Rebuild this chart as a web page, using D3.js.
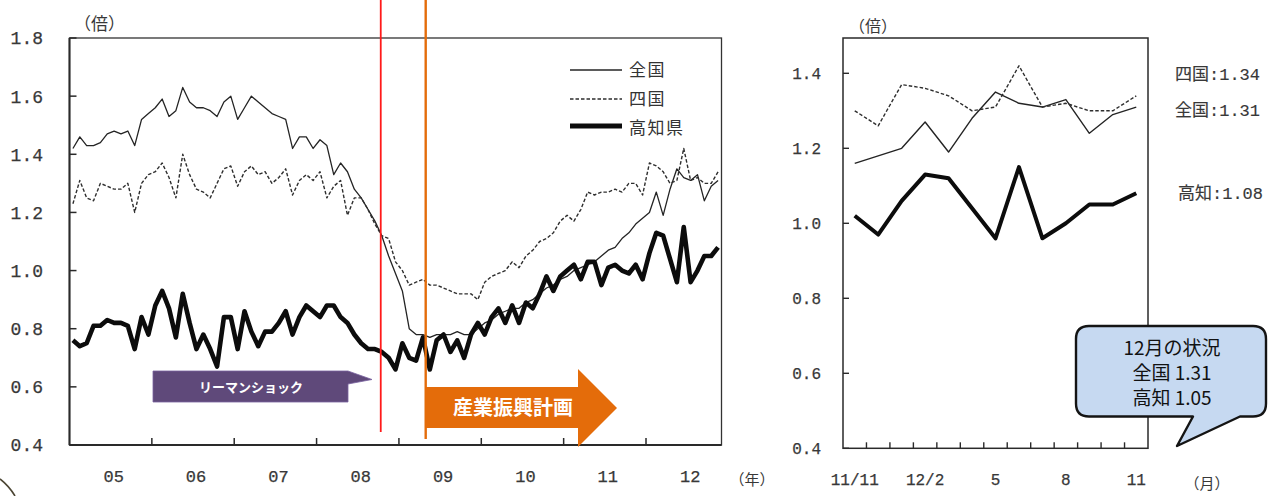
<!DOCTYPE html>
<html>
<head>
<meta charset="utf-8">
<script src="https://cdn.jsdelivr.net/npm/d3@7"></script>
<style>
  html, body { margin: 0; padding: 0; background: #ffffff; }
  svg { display: block; }
</style>
</head>
<body>
<svg id="chart" width="1269" height="496"></svg>
<script>
// 有効求人倍率（月次）2005年1月〜2012年11月
const yearLabels = ["05", "06", "07", "08", "09", "10", "11", "12"];
const yTicksMain = [0.4, 0.6, 0.8, 1.0, 1.2, 1.4, 1.6, 1.8];

const zenkoku = [
  1.42, 1.46, 1.43, 1.43, 1.44, 1.47, 1.48, 1.47, 1.48, 1.43, 1.52, 1.54,
  1.56, 1.59, 1.53, 1.55, 1.63, 1.58, 1.56, 1.56, 1.55, 1.53, 1.58, 1.60,
  1.52, 1.56, 1.60, 1.58, 1.56, 1.54, 1.53, 1.52, 1.42, 1.46, 1.46, 1.42,
  1.45, 1.43, 1.33, 1.37, 1.34, 1.28, 1.25, 1.21, 1.17, 1.12, 1.05, 0.99,
  0.93, 0.80, 0.78, 0.78, 0.77, 0.78, 0.78, 0.78, 0.79, 0.78, 0.78, 0.80,
  0.82, 0.83, 0.85, 0.86, 0.87, 0.87, 0.89, 0.90, 0.92, 0.94, 0.95, 0.97,
  0.98, 1.00, 1.01, 1.02, 1.03, 1.05, 1.07, 1.08, 1.11, 1.13,
  1.16, 1.18, 1.20, 1.27, 1.19, 1.28, 1.35, 1.32, 1.31, 1.33, 1.24, 1.29, 1.31
];
const shikoku = [
  1.23, 1.31, 1.25, 1.24, 1.30, 1.29, 1.28, 1.28, 1.30, 1.20, 1.30, 1.33,
  1.34, 1.37, 1.32, 1.25, 1.40, 1.33, 1.28, 1.27, 1.25, 1.30, 1.35, 1.36,
  1.29, 1.34, 1.36, 1.33, 1.34, 1.30, 1.32, 1.35, 1.26, 1.31, 1.33, 1.31,
  1.34, 1.25, 1.29, 1.31, 1.19, 1.25, 1.25, 1.21, 1.16, 1.12, 1.11, 1.03,
  1.00, 0.95, 0.96, 0.97, 0.95, 0.95, 0.94, 0.93, 0.92, 0.92, 0.92, 0.90,
  0.96, 0.98, 0.99, 1.00, 1.03, 1.01, 1.05, 1.07, 1.10, 1.11, 1.13, 1.17,
  1.19, 1.17, 1.21, 1.27, 1.26, 1.27, 1.27, 1.28, 1.27, 1.30,
  1.30, 1.26, 1.37, 1.36, 1.34, 1.30, 1.31, 1.42, 1.31, 1.32, 1.30, 1.30, 1.34
];
const kochi = [
  0.76, 0.74, 0.75, 0.81, 0.81, 0.83, 0.82, 0.82, 0.81, 0.73, 0.84, 0.78,
  0.88, 0.93, 0.87, 0.77, 0.92, 0.82, 0.73, 0.78, 0.73, 0.67, 0.84, 0.84,
  0.73, 0.86, 0.79, 0.74, 0.79, 0.79, 0.82, 0.86, 0.78, 0.84, 0.88, 0.86,
  0.84, 0.88, 0.88, 0.84, 0.82, 0.78, 0.75, 0.73, 0.73, 0.72, 0.70, 0.66,
  0.75, 0.70, 0.69, 0.77, 0.66, 0.76, 0.78, 0.72, 0.76, 0.70, 0.78, 0.82,
  0.78, 0.84, 0.87, 0.82, 0.88, 0.82, 0.89, 0.87, 0.92, 0.98, 0.93, 0.98,
  1.00, 1.02, 0.97, 1.03, 1.03, 0.95, 1.01, 1.02, 1.00, 0.99,
  1.02, 0.97, 1.06, 1.13, 1.12, 1.04, 0.96, 1.15, 0.96, 1.00, 1.05, 1.05, 1.08
];

// 直近13か月（2011年11月〜2012年11月）
const detailLabels = ["11/11", "", "", "12/2", "", "", "5", "", "", "8", "", "", "11"];
const yTicksDetail = [0.4, 0.6, 0.8, 1.0, 1.2, 1.4];
const detailCount = detailLabels.length;
const detailZenkoku = zenkoku.slice(-detailCount);
const detailShikoku = shikoku.slice(-detailCount);
const detailKochi = kochi.slice(-detailCount);

// 12月の速報値
const decemberZenkoku = 1.31;
const decemberKochi = 1.05;

// 出来事の時期（2005年1月からの月数）
const lehmanMonth = 45.35;
const planMonth = 51.9;

const svg = d3.select("#chart");
const labelColor = "#383838";
const monoFont = "'Liberation Mono', 'DejaVu Sans Mono', 'Noto Sans CJK JP', monospace";
const cjkFont = "'Noto Sans CJK JP', 'Noto Sans', sans-serif";

const seriesStyles = [
  { name: "全国", width: 1.3, dash: null, color: "#242424" },
  { name: "四国", width: 1.4, dash: "3.5,2", color: "#2e2e2e" },
  { name: "高知県", width: 4.6, dash: null, color: "#0c0c0c" }
];

// 等幅の目盛ラベルは少し太らせる
function monoLabel(sel, size) {
  sel.attr("font-family", monoFont).attr("font-size", size)
    .attr("fill", labelColor).attr("stroke", labelColor).attr("stroke-width", 0.25);
}

// ---------------- 左：長期推移 ----------------
const xL = d3.scaleLinear().domain([0, 95]).range([69.5, 721.5]);
const yL = d3.scaleLinear().domain([0.4, 1.8]).range([445, 38]);

const main = svg.append("g");

main.append("rect")
  .attr("x", xL(0)).attr("y", yL(1.8))
  .attr("width", xL(95) - xL(0)).attr("height", yL(0.4) - yL(1.8))
  .attr("fill", "none").attr("stroke", "#333").attr("stroke-width", 1.3);
main.append("line")
  .attr("x1", xL(0)).attr("x2", xL(0)).attr("y1", yL(1.8)).attr("y2", yL(0.4))
  .attr("stroke", "#2a2a2a").attr("stroke-width", 2);
main.append("line")
  .attr("x1", xL(0)).attr("x2", xL(95)).attr("y1", yL(0.4)).attr("y2", yL(0.4))
  .attr("stroke", "#2a2a2a").attr("stroke-width", 2);

main.selectAll(".ytick").data(yTicksMain).join("line")
  .attr("x1", xL(0)).attr("x2", xL(0) + 7)
  .attr("y1", d => yL(d)).attr("y2", d => yL(d))
  .attr("stroke", "#2a2a2a").attr("stroke-width", 1.5);
main.selectAll(".ylab").data(yTicksMain).join("text")
  .attr("x", 43).attr("y", d => yL(d)).attr("dy", "0.36em")
  .attr("text-anchor", "end")
  .call(monoLabel, 18)
  .text(d => d3.format(".1f")(d));

const yearStarts = yearLabels.slice(1).map((_, i) => (i + 1) * 12);
main.selectAll(".xtick").data(yearStarts).join("line")
  .attr("x1", d => xL(d)).attr("x2", d => xL(d))
  .attr("y1", yL(0.4)).attr("y2", yL(0.4) - 7)
  .attr("stroke", "#2a2a2a").attr("stroke-width", 1.5);
main.selectAll(".xlab").data(yearLabels).join("text")
  .attr("x", (d, i) => xL(i * 12 + 6) + 3).attr("y", 482)
  .attr("text-anchor", "middle")
  .call(monoLabel, 17)
  .text(d => d);

main.append("text")
  .attr("x", 74).attr("y", 30)
  .attr("font-family", cjkFont).attr("font-size", 17)
  .attr("fill", labelColor).text("（倍）");

const lineL = d3.line().x((d, i) => xL(i + 0.5)).y(d => yL(d));
[zenkoku, shikoku, kochi].forEach((values, k) => {
  const s = seriesStyles[k];
  main.append("path")
    .datum(values)
    .attr("d", lineL)
    .attr("fill", "none")
    .attr("stroke", s.color)
    .attr("stroke-width", s.width)
    .attr("stroke-dasharray", s.dash)
    .attr("stroke-linejoin", "round");
});

// 凡例
const legend = main.append("g");
const legendRows = [70, 99, 126];
seriesStyles.forEach((s, k) => {
  legend.append("line")
    .attr("x1", 570).attr("x2", 622)
    .attr("y1", legendRows[k]).attr("y2", legendRows[k])
    .attr("stroke", s.color).attr("stroke-width", k === 2 ? 5 : 1.3)
    .attr("stroke-dasharray", s.dash);
  legend.append("text")
    .attr("x", 629).attr("y", legendRows[k] + (k === 2 ? 2 : 0)).attr("dy", "0.36em")
    .attr("font-family", cjkFont).attr("font-size", 17)
    .attr("letter-spacing", 1.5)
    .attr("fill", "#333").text(s.name);
});

// リーマンショック・産業振興計画の縦線
main.append("line")
  .attr("x1", xL(lehmanMonth)).attr("x2", xL(lehmanMonth))
  .attr("y1", 0).attr("y2", 432)
  .attr("stroke", "#ff1a1a").attr("stroke-width", 1.8);
main.append("line")
  .attr("x1", xL(planMonth)).attr("x2", xL(planMonth))
  .attr("y1", 0).attr("y2", 439)
  .attr("stroke", "#e46c0a").attr("stroke-width", 2.4);

// 産業振興計画の矢印
const ax = xL(planMonth);
main.append("path")
  .attr("d", `M${ax},387 H578 V369 L617,408 L578,447 V428 H${ax} Z`)
  .attr("fill", "#e46c0a");
main.append("text")
  .attr("x", 513).attr("y", 408).attr("dy", "0.36em")
  .attr("text-anchor", "middle")
  .attr("font-family", cjkFont).attr("font-size", 20).attr("font-weight", "bold")
  .attr("fill", "#ffffff").text("産業振興計画");

// リーマンショックの吹き出し
main.append("path")
  .attr("d", "M153,371 H348 L372,379.5 L348,384 V402 H153 Z")
  .attr("fill", "#5f497a").attr("stroke", "#7a62a0").attr("stroke-width", 0.8);
main.append("text")
  .attr("x", 251).attr("y", 387).attr("dy", "0.36em")
  .attr("text-anchor", "middle")
  .attr("font-family", cjkFont).attr("font-size", 13).attr("font-weight", "bold")
  .attr("fill", "#ffffff").text("リーマンショック");

// ---------------- 右：直近13か月 ----------------
const xR = d3.scaleLinear().domain([-0.5, detailCount - 0.5]).range([843, 1148]);
const yR = d3.scaleLinear().domain([0.4, 1.4]).range([448.3, 73.3]);
const detail = svg.append("g");

detail.append("rect")
  .attr("x", 843).attr("y", 38)
  .attr("width", 1148 - 843).attr("height", yR(0.4) - 38)
  .attr("fill", "none").attr("stroke", "#2a2a2a").attr("stroke-width", 1.5);

detail.selectAll(".ytick").data(yTicksDetail).join("line")
  .attr("x1", 843).attr("x2", 849)
  .attr("y1", d => yR(d)).attr("y2", d => yR(d))
  .attr("stroke", "#2a2a2a").attr("stroke-width", 1.4);
detail.selectAll(".ylab").data(yTicksDetail).join("text")
  .attr("x", 821).attr("y", d => yR(d)).attr("dy", "0.36em")
  .attr("text-anchor", "end")
  .call(monoLabel, 16)
  .text(d => d3.format(".1f")(d));

const detailBounds = d3.range(detailCount - 1).map(i => i + 0.5);
detail.selectAll(".xtick").data(detailBounds).join("line")
  .attr("x1", d => xR(d)).attr("x2", d => xR(d))
  .attr("y1", yR(0.4)).attr("y2", yR(0.4) - 6)
  .attr("stroke", "#2a2a2a").attr("stroke-width", 1.4);
detail.selectAll(".xlab").data(detailLabels).join("text")
  .attr("x", (d, i) => xR(i)).attr("y", 485)
  .attr("text-anchor", "middle")
  .call(monoLabel, 16)
  .text(d => d);

detail.append("text")
  .attr("x", 752).attr("y", 485).attr("text-anchor", "middle")
  .attr("font-family", cjkFont).attr("font-size", 15)
  .attr("fill", labelColor).text("（年）");
detail.append("text")
  .attr("x", 1207).attr("y", 489).attr("text-anchor", "middle")
  .attr("font-family", cjkFont).attr("font-size", 15)
  .attr("fill", labelColor).text("（月）");
detail.append("text")
  .attr("x", 849).attr("y", 32)
  .attr("font-family", cjkFont).attr("font-size", 16)
  .attr("fill", labelColor).text("（倍）");

const lineR = d3.line().x((d, i) => xR(i)).y(d => yR(d));
[detailZenkoku, detailShikoku, detailKochi].forEach((values, k) => {
  const s = seriesStyles[k];
  detail.append("path")
    .datum(values)
    .attr("d", lineR)
    .attr("fill", "none")
    .attr("stroke", s.color)
    .attr("stroke-width", k === 2 ? 4 : 1.4)
    .attr("stroke-dasharray", s.dash)
    .attr("stroke-linejoin", "round");
});

// 最新値ラベル
const latestLabels = [
  { name: "四国", value: detailShikoku[detailCount - 1], x: 1175, y: 74 },
  { name: "全国", value: detailZenkoku[detailCount - 1], x: 1175, y: 110 },
  { name: "高知", value: detailKochi[detailCount - 1], x: 1178, y: 193 }
];
detail.selectAll(".latest").data(latestLabels).join("text")
  .attr("x", d => d.x).attr("y", d => d.y).attr("dy", "0.36em")
  .call(monoLabel, 17)
  .attr("stroke-width", 0.15)
  .text(d => `${d.name}:${d3.format(".2f")(d.value)}`);

// 12月の状況の吹き出し
const bx0 = 1076, bx1 = 1266, by0 = 326, by1 = 416.5, br = 13;
svg.append("path")
  .attr("d", `M${bx0 + br},${by0} H${bx1 - br} Q${bx1},${by0} ${bx1},${by0 + br} V${by1 - br} Q${bx1},${by1} ${bx1 - br},${by1} H1240 L1177,446 L1193,${by1} H${bx0 + br} Q${bx0},${by1} ${bx0},${by1 - br} V${by0 + br} Q${bx0},${by0} ${bx0 + br},${by0} Z`)
  .attr("fill", "#c6d9f1").attr("stroke", "#141414").attr("stroke-width", 2.4)
  .attr("stroke-linejoin", "round");
const noteLines = [
  "12月の状況",
  `全国 ${d3.format(".2f")(decemberZenkoku)}`,
  `高知 ${d3.format(".2f")(decemberKochi)}`
];
svg.selectAll(".note").data(noteLines).join("text")
  .attr("x", 1172).attr("y", (d, i) => 348 + i * 25).attr("dy", "0.36em")
  .attr("text-anchor", "middle")
  .attr("font-family", cjkFont).attr("font-size", 19)
  .attr("fill", "#111").text(d => d);

// 左下の枠線
svg.append("path")
  .attr("d", "M0,479 Q9,486 15,496")
  .attr("fill", "none").attr("stroke", "#4b4533").attr("stroke-width", 1.6);
</script>
</body>
</html>
